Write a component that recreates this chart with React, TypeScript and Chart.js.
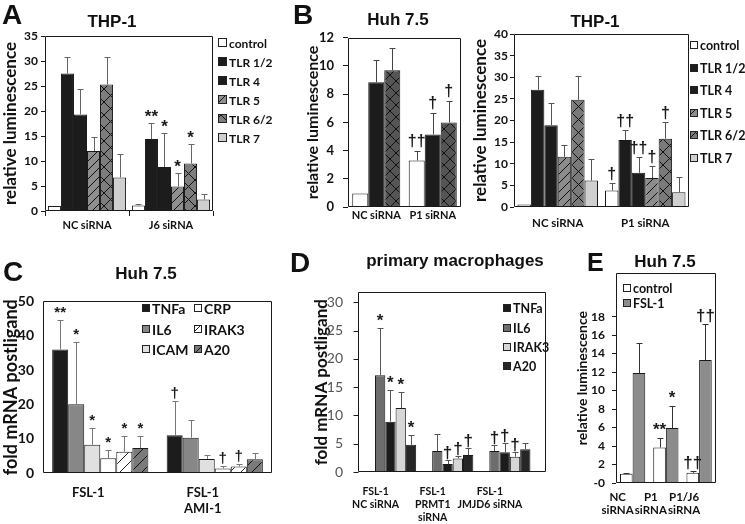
import React, { useEffect, useRef } from 'react';
import { Chart, registerables } from 'chart.js';

Chart.register(...registerables);

// ================= DATA =================
// Panel A — THP-1, NC siRNA vs J6 siRNA (relative luminescence)
const aGroups = ['NC siRNA', 'J6 siRNA'];
const aControl = [1.0, 1.1];
const aControlErr = [0, 0.3];
const aTlr12 = [27.5, 14.4];
const aTlr12Err = [3.3, 3.3];
const aTlr12Sig = ['', '**'];
const aTlr4 = [19.3, 8.8];
const aTlr4Err = [5.2, 6.8];
const aTlr4Sig = ['', '*'];
const aTlr5 = [12.0, 4.9];
const aTlr5Err = [2.9, 2.8];
const aTlr5Sig = ['', '*'];
const aTlr62 = [25.3, 9.5];
const aTlr62Err = [5.5, 4.0];
const aTlr62Sig = ['', '*'];
const aTlr7 = [6.7, 2.3];
const aTlr7Err = [4.8, 1.2];

// Panel B (left) — Huh 7.5, NC vs P1 siRNA
const bGroups = ['NC siRNA', 'P1 siRNA'];
const bControl = [0.95, 3.3];
const bControlErr = [0, 0.7];
const bControlSig = ['', '††'];
const bTlr12 = [8.85, 5.15];
const bTlr12Err = [1.55, 1.55];
const bTlr12Sig = ['', '†'];
const bTlr62 = [9.7, 6.0];
const bTlr62Err = [1.6, 1.55];
const bTlr62Sig = ['', '†'];

// Panel B (right) — THP-1, NC vs P1 siRNA
const b2Control = [0.6, 3.8];
const b2ControlErr = [0, 1.7];
const b2ControlSig = ['', '†'];
const b2Tlr12 = [27.1, 15.5];
const b2Tlr12Err = [3.2, 2.4];
const b2Tlr12Sig = ['', '††'];
const b2Tlr4 = [18.9, 7.9];
const b2Tlr4Err = [5.2, 3.7];
const b2Tlr4Sig = ['', '††'];
const b2Tlr5 = [11.6, 6.7];
const b2Tlr5Err = [2.8, 2.8];
const b2Tlr5Sig = ['', '†'];
const b2Tlr62 = [24.8, 15.8];
const b2Tlr62Err = [5.6, 3.9];
const b2Tlr62Sig = ['', '†'];
const b2Tlr7 = [6.1, 3.4];
const b2Tlr7Err = [4.9, 3.5];

// Panel C — Huh 7.5, fold mRNA postligand
const cGroups: (string | string[])[] = ['FSL-1', ['FSL-1', 'AMI-1']];
const cTnfa = [36.0, 11.0];
const cTnfaErr = [8.5, 10.0];
const cTnfaSig = ['**', '†'];
const cIl6 = [20.0, 10.3];
const cIl6Err = [18.3, 5.2];
const cIl6Sig = ['*', ''];
const cIcam = [8.2, 4.1];
const cIcamErr = [4.8, 1.2];
const cIcamSig = ['*', ''];
const cCrp = [4.3, 1.3];
const cCrpErr = [2.4, 0.8];
const cCrpSig = ['*', '†'];
const cIrak3 = [6.2, 1.9];
const cIrak3Err = [4.5, 0.6];
const cIrak3Sig = ['*', '†'];
const cA20 = [7.3, 4.0];
const cA20Err = [3.5, 1.9];
const cA20Sig = ['*', ''];

// Panel D — primary macrophages
const dGroups: string[][] = [['FSL-1', 'NC siRNA'], ['FSL-1', 'PRMT1', 'siRNA'], ['FSL-1', 'JMJD6 siRNA']];
const dIl6 = [17.1, 3.7, 3.7];
const dIl6Err = [8.3, 3.1, 1.1];
const dIl6Sig = ['*', '', '†'];
const dTnfa = [8.9, 1.4, 3.5];
const dTnfaErr = [5.6, 0.7, 1.6];
const dTnfaSig = ['*', '†', '†'];
const dIrak3 = [11.3, 2.4, 2.7];
const dIrak3Err = [2.8, 0.4, 0.8];
const dIrak3Sig = ['*', '†', '†'];
const dA20 = [4.8, 3.0, 4.0];
const dA20Err = [1.7, 1.2, 1.2];
const dA20Sig = ['*', '†', ''];

// Panel E — Huh 7.5, relative luminescence
const eGroups: string[][] = [['NC', 'siRNA'], ['P1', 'siRNA'], ['P1/J6', 'siRNA']];
const eControl = [1.0, 3.85, 1.1];
const eControlErr = [0.05, 1.05, 0.15];
const eControlSig = ['', '**', '††'];
const eFsl = [11.9, 5.95, 13.3];
const eFslErr = [3.3, 2.35, 3.9];
const eFslSig = ['', '*', '††'];

// ================= HELPERS =================
const CAL = 'Lato';
const ARIAL = '"Liberation Sans", Arial, sans-serif';

function hatch(bg: string, line: string, size: number, cross: boolean, lw = 1): any {
  const c = document.createElement('canvas');
  c.width = size;
  c.height = size;
  const g = c.getContext('2d');
  if (!g) return bg;
  g.fillStyle = bg;
  g.fillRect(0, 0, size, size);
  g.strokeStyle = line;
  g.lineWidth = lw;
  g.beginPath();
  g.moveTo(0, size); g.lineTo(size, 0);
  g.moveTo(-size / 2, size / 2); g.lineTo(size / 2, -size / 2);
  g.moveTo(size / 2, size * 1.5); g.lineTo(size * 1.5, size / 2);
  if (cross) {
    g.moveTo(0, 0); g.lineTo(size, size);
    g.moveTo(-size / 2, size / 2); g.lineTo(size / 2, size * 1.5);
    g.moveTo(size / 2, -size / 2); g.lineTo(size * 1.5, size / 2);
  }
  g.stroke();
  return g.createPattern(c, 'repeat') || bg;
}

function ds(label: string, data: number[], errors: number[], sig: string[] | null, bg: any) {
  return { label, data, errors, sig, backgroundColor: bg };
}

const errorBars = {
  id: 'errorBars',
  afterDatasetsDraw(chart: any, _a: any, o: any) {
    if (!o || !o.show) return;
    const { ctx } = chart;
    const ys = chart.scales.y;
    ctx.save();
    chart.data.datasets.forEach((d: any, di: number) => {
      const meta = chart.getDatasetMeta(di);
      meta.data.forEach((el: any, i: number) => {
        const v = d.data[i];
        const e = d.errors ? d.errors[i] || 0 : 0;
        const x = Math.round(el.x) + 0.5;
        const top = ys.getPixelForValue(v + e);
        const ty = Math.round(top) + 0.5;
        if (e > 0) {
          ctx.strokeStyle = o.color;
          ctx.lineWidth = 1;
          ctx.beginPath();
          ctx.moveTo(x, el.y);
          ctx.lineTo(x, ty);
          ctx.moveTo(x - o.cap, ty);
          ctx.lineTo(x + o.cap, ty);
          ctx.stroke();
        }
        const s = d.sig ? d.sig[i] : '';
        if (s) {
          ctx.fillStyle = o.textColor;
          ctx.font = o.font;
          ctx.textAlign = 'center';
          ctx.textBaseline = 'alphabetic';
          ctx.fillText(s, el.x, top - o.gap);
        }
      });
    });
    ctx.restore();
  },
};

const frameBox = {
  id: 'frameBox',
  afterDatasetsDraw(chart: any, _a: any, o: any) {
    if (!o || !o.show) return;
    const { ctx, chartArea: ca } = chart;
    const l = Math.round(ca.left - o.l) + 0.5;
    const r = Math.round(ca.right + o.r) - 0.5;
    const t = Math.round(ca.top) + 0.5;
    const b = Math.round(ca.bottom) - 0.5;
    ctx.save();
    ctx.strokeStyle = o.color;
    ctx.lineWidth = 1;
    ctx.beginPath();
    ctx.rect(l, t, r - l, b - t);
    if (o.yTickLen > 0) {
      const ys = chart.scales.y;
      ys.ticks.forEach((tk: any) => {
        const py = Math.round(ys.getPixelForValue(tk.value)) + 0.5;
        ctx.moveTo(l - o.yTickLen, py);
        ctx.lineTo(l, py);
      });
    }
    ctx.stroke();
    ctx.restore();
  },
};

const boxLegend = {
  id: 'boxLegend',
  afterDraw(chart: any, _a: any, o: any) {
    if (!o || !o.show) return;
    const { ctx, chartArea: ca } = chart;
    const order: number[] = o.order || chart.data.datasets.map((_: any, i: number) => i);
    ctx.save();
    ctx.font = o.font;
    ctx.textBaseline = 'middle';
    ctx.textAlign = 'left';
    order.forEach((di, k) => {
      const d = chart.data.datasets[di];
      const col = Math.floor(k / o.rows);
      const row = k % o.rows;
      const x = Math.round(ca.left + o.x + col * o.colGap);
      const y = Math.round(ca.top + o.y + row * o.rowGap);
      const top = y - Math.round(o.box / 2);
      ctx.fillStyle = d.backgroundColor;
      ctx.fillRect(x, top, o.box, o.box);
      ctx.strokeStyle = '#222';
      ctx.lineWidth = 1;
      ctx.strokeRect(x + 0.5, top + 0.5, o.box - 1, o.box - 1);
      ctx.fillStyle = o.color;
      ctx.fillText(d.label, x + o.box + o.gap, y + 1);
    });
    ctx.restore();
  },
};

type Area = { l: number; t: number; r: number; b: number };

interface Spec {
  area: Area; yW: number; xH: number; padT: number; padR: number;
  labels: (string | string[])[];
  datasets: any[];
  catPct: number;
  yMax: number; yStep: number; yLimit?: number; zeroLabel?: string;
  yTick: { size: number; weight: string; color: string; len: number; pad: number };
  yTitle: { text: string; size: number; pad: number };
  xTick: { size: number; lh: number; len: number; pad: number; offset: number };
  frame: { l: number; r: number; yTickLen: number };
  legend: any;
  err: { color: string; cap: number; font: string; gap: number };
}

function rectOf(s: Spec) {
  const left = s.area.l - s.yW;
  const top = s.area.t - s.padT;
  return { left, top, width: s.area.r + s.padR - left, height: s.area.b + s.xH - top };
}

function buildConfig(s: Spec): any {
  const limit = s.yLimit ?? s.yMax;
  return {
    type: 'bar',
    data: {
      labels: s.labels,
      datasets: s.datasets.map((d) => ({
        borderColor: '#1a1a1a',
        borderWidth: 1,
        categoryPercentage: s.catPct,
        barPercentage: 1,
        ...d,
      })),
    },
    options: {
      animation: false,
      responsive: false,
      maintainAspectRatio: false,
      layout: { padding: { left: 0, top: s.padT, right: s.padR, bottom: 0 } },
      plugins: {
        legend: { display: false },
        tooltip: { enabled: false },
        title: { display: false },
        frameBox: { show: true, color: '#1a1a1a', ...s.frame },
        boxLegend: s.legend ? { show: true, color: '#111', ...s.legend } : { show: false },
        errorBars: { show: true, textColor: '#1a1a1a', ...s.err },
      },
      scales: {
        x: {
          type: 'category',
          offset: true,
          grid: {
            display: true,
            drawOnChartArea: false,
            drawTicks: s.xTick.len > 0,
            tickLength: s.xTick.len,
            color: '#1a1a1a',
            offset: true,
          },
          border: { display: false },
          ticks: {
            font: { family: CAL, size: s.xTick.size, weight: 'bold', lineHeight: s.xTick.lh },
            color: '#111',
            padding: s.xTick.pad,
            maxRotation: 0,
            minRotation: 0,
            autoSkip: false,
            labelOffset: s.xTick.offset,
          },
          afterFit: (sc: any) => { sc.height = s.xH; },
        },
        y: {
          min: 0,
          max: s.yMax,
          grid: {
            display: true,
            drawOnChartArea: false,
            drawTicks: s.yTick.len > 0,
            tickLength: s.yTick.len,
            color: '#1a1a1a',
          },
          border: { display: false },
          ticks: {
            stepSize: s.yStep,
            includeBounds: false,
            font: { family: CAL, size: s.yTick.size, weight: s.yTick.weight },
            color: s.yTick.color,
            padding: s.yTick.pad,
            callback: (v: any) => (Number(v) === 0 && s.zeroLabel ? s.zeroLabel : String(v)),
          },
          afterBuildTicks: (sc: any) => {
            sc.ticks = sc.ticks.filter(
              (t: any) => t.value <= limit + 1e-9 && Math.abs(t.value / s.yStep - Math.round(t.value / s.yStep)) < 1e-6,
            );
          },
          title: {
            display: true,
            text: s.yTitle.text,
            font: { family: CAL, size: s.yTitle.size, weight: 'bold' },
            color: '#111',
            padding: { top: s.yTitle.pad, bottom: 0 },
          },
          afterFit: (sc: any) => { sc.width = s.yW; },
        },
      },
    },
    plugins: [frameBox, errorBars, boxLegend],
  };
}

function Panel({ make }: { make: () => Spec }) {
  const ref = useRef<HTMLCanvasElement>(null);
  const spec0 = make();
  const r = rectOf(spec0);
  useEffect(() => {
    if (!ref.current) return;
    const chart = new Chart(ref.current, buildConfig(make()));
    return () => chart.destroy();
  }, []);
  return (
    <canvas
      ref={ref}
      width={r.width}
      height={r.height}
      style={{ position: 'absolute', left: r.left, top: r.top, width: r.width, height: r.height }}
    />
  );
}

function Txt(p: { x: number; y: number; size: number; text: string; center?: boolean }) {
  return (
    <div
      style={{
        position: 'absolute',
        left: p.x,
        top: p.y,
        fontFamily: ARIAL,
        fontWeight: 700,
        fontSize: p.size,
        lineHeight: 1,
        whiteSpace: 'nowrap',
        color: '#111',
        transform: p.center ? 'translateX(-50%)' : undefined,
      }}
    >
      {p.text}
    </div>
  );
}

// ================= PANEL SPECS =================
const isBrowser = typeof document !== 'undefined';
const pat = (bg: string, line: string, size: number, cross: boolean) => (isBrowser ? hatch(bg, line, size, cross) : bg);

const specA = (): Spec => ({
  area: { l: 45, t: 36, r: 213, b: 211 }, yW: 45, xH: 26, padT: 12, padR: 62,
  labels: aGroups,
  datasets: [
    ds('control', aControl, aControlErr, null, '#ffffff'),
    ds('TLR 1/2', aTlr12, aTlr12Err, aTlr12Sig, '#1c1c1c'),
    ds('TLR 4', aTlr4, aTlr4Err, aTlr4Sig, '#1c1c1c'),
    ds('TLR 5', aTlr5, aTlr5Err, aTlr5Sig, pat('#8f8f8f', '#111', 9, false)),
    ds('TLR 6/2', aTlr62, aTlr62Err, aTlr62Sig, pat('#7d7d7d', '#111', 13, true)),
    ds('TLR 7', aTlr7, aTlr7Err, null, '#cfcfcf'),
  ],
  catPct: 0.93,
  yMax: 35, yStep: 5,
  yTick: { size: 12, weight: 'bold', color: '#111', len: 4, pad: 3 },
  yTitle: { text: 'relative luminescence', size: 17, pad: 0 },
  xTick: { size: 11, lh: 1.2, len: 5, pad: 3, offset: 0 },
  frame: { l: 0, r: 0, yTickLen: 0 },
  legend: { x: 173, y: 7, rows: 6, rowGap: 19, colGap: 0, box: 9, gap: 2, font: `bold 12px ${CAL}` },
  err: { color: '#666', cap: 3, font: `bold 17px ${ARIAL}`, gap: 1 },
});

const specB1 = (): Spec => ({
  area: { l: 348, t: 33, r: 461, b: 207 }, yW: 48, xH: 20, padT: 12, padR: 5,
  labels: bGroups,
  datasets: [
    ds('control', bControl, bControlErr, bControlSig, '#ffffff'),
    ds('TLR 1/2', bTlr12, bTlr12Err, bTlr12Sig, '#1c1c1c'),
    ds('TLR 6/2', bTlr62, bTlr62Err, bTlr62Sig, pat('#555555', '#111', 12, true)),
  ],
  catPct: 0.85,
  yMax: 12, yStep: 2,
  yTick: { size: 13, weight: 'bold', color: '#111', len: 5, pad: 9 },
  yTitle: { text: 'relative luminescence', size: 16, pad: 3 },
  xTick: { size: 11, lh: 1.2, len: 0, pad: 2, offset: 0 },
  frame: { l: 0, r: 0, yTickLen: 0 },
  legend: null,
  err: { color: '#444', cap: 3, font: `bold 16px ${ARIAL}`, gap: 5 },
});

const specB2 = (): Spec => ({
  area: { l: 514, t: 34, r: 689, b: 207 }, yW: 46, xH: 30, padT: 12, padR: 56,
  labels: bGroups,
  datasets: [
    ds('control', b2Control, b2ControlErr, b2ControlSig, '#ffffff'),
    ds('TLR 1/2', b2Tlr12, b2Tlr12Err, b2Tlr12Sig, '#1c1c1c'),
    ds('TLR 4', b2Tlr4, b2Tlr4Err, b2Tlr4Sig, '#1c1c1c'),
    ds('TLR 5', b2Tlr5, b2Tlr5Err, b2Tlr5Sig, pat('#8c8c8c', '#111', 9, false)),
    ds('TLR 6/2', b2Tlr62, b2Tlr62Err, b2Tlr62Sig, pat('#7a7a7a', '#111', 13, true)),
    ds('TLR 7', b2Tlr7, b2Tlr7Err, null, '#cfcfcf'),
  ],
  catPct: 0.92,
  yMax: 40, yStep: 5,
  yTick: { size: 12, weight: 'bold', color: '#111', len: 4, pad: 2 },
  yTitle: { text: 'relative luminescence', size: 17, pad: 2 },
  xTick: { size: 11.5, lh: 1.2, len: 0, pad: 9, offset: 0 },
  frame: { l: 0, r: 0, yTickLen: 0 },
  legend: { x: 176, y: 11, rows: 6, rowGap: 22.6, colGap: 0, box: 8, gap: 2, font: `bold 12.5px ${CAL}` },
  err: { color: '#555', cap: 3, font: `bold 16px ${ARIAL}`, gap: 4 },
});

const specC = (): Spec => ({
  area: { l: 43, t: 296, r: 272, b: 473 }, yW: 43, xH: 45, padT: 12, padR: 5,
  labels: cGroups,
  datasets: [
    ds('TNFa', cTnfa, cTnfaErr, cTnfaSig, '#1c1c1c'),
    ds('IL6', cIl6, cIl6Err, cIl6Sig, '#878787'),
    ds('ICAM', cIcam, cIcamErr, cIcamSig, '#e0e0e0'),
    ds('CRP', cCrp, cCrpErr, cCrpSig, '#ffffff'),
    ds('IRAK3', cIrak3, cIrak3Err, cIrak3Sig, pat('#ffffff', '#222', 11, false)),
    ds('A20', cA20, cA20Err, cA20Sig, pat('#7a7a7a', '#111', 11, false)),
  ],
  catPct: 0.84,
  yMax: 50, yStep: 10,
  yTick: { size: 14, weight: 'bold', color: '#111', len: 0, pad: 9 },
  yTitle: { text: 'fold mRNA postligand', size: 18, pad: 0 },
  xTick: { size: 13, lh: 1.2, len: 0, pad: 12, offset: -12 },
  frame: { l: 0, r: 0, yTickLen: 0 },
  legend: { x: 99, y: 7, rows: 3, rowGap: 20.5, colGap: 52, box: 8, gap: 2, font: `bold 14px ${CAL}` },
  err: { color: '#777', cap: 3, font: `bold 15px ${ARIAL}`, gap: 3 },
});

const specD = (): Spec => ({
  area: { l: 367, t: 272, r: 547, b: 472 }, yW: 60, xH: 52, padT: 12, padR: 10,
  labels: dGroups,
  datasets: [
    ds('IL6', dIl6, dIl6Err, dIl6Sig, '#6d6d6d'),
    ds('TNFa', dTnfa, dTnfaErr, dTnfaSig, '#1c1c1c'),
    ds('IRAK3', dIrak3, dIrak3Err, dIrak3Sig, '#d6d6d6'),
    ds('A20', dA20, dA20Err, dA20Sig, '#262626'),
  ],
  catPct: 0.72,
  yMax: 31.75, yStep: 5, yLimit: 30,
  yTick: { size: 14, weight: 'normal', color: '#555', len: 0, pad: 24 },
  yTitle: { text: 'fold mRNA postligand', size: 17, pad: 4 },
  xTick: { size: 10.5, lh: 1.25, len: 0, pad: 13, offset: -20 },
  frame: { l: 9, r: 8, yTickLen: 5 },
  legend: { x: 136, y: 16, rows: 4, rowGap: 19.3, colGap: 0, box: 8, gap: 2, font: `bold 12.5px ${CAL}`, order: [1, 0, 2, 3] },
  err: { color: '#555', cap: 3, font: `bold 17px ${ARIAL}`, gap: 2 },
});

const specE = (): Spec => ({
  area: { l: 616, t: 271, r: 719, b: 483 }, yW: 44, xH: 41, padT: 12, padR: 5,
  labels: eGroups,
  datasets: [
    ds('control', eControl, eControlErr, eControlSig, '#ffffff'),
    ds('FSL-1', eFsl, eFslErr, eFslSig, '#8c8c8c'),
  ],
  catPct: 0.76,
  yMax: 22.7, yStep: 2, yLimit: 18, zeroLabel: '-0',
  yTick: { size: 12, weight: 'bold', color: '#111', len: 4, pad: 7 },
  yTitle: { text: 'relative luminescence', size: 14, pad: 2 },
  xTick: { size: 11.5, lh: 1.13, len: 0, pad: 8, offset: -15 },
  frame: { l: 0, r: 0, yTickLen: 0 },
  legend: { x: 7, y: 15, rows: 2, rowGap: 15, colGap: 0, box: 8, gap: 2, font: `bold 12.5px ${CAL}` },
  err: { color: '#333', cap: 3, font: `bold 17px ${ARIAL}`, gap: 3 },
});

export default function App() {
  return (
    <div
      style={{
        position: 'absolute',
        left: 0,
        top: 0,
        width: 745,
        height: 524,
        overflow: 'hidden',
        background: '#ffffff',
      }}
    >
      <Panel make={specA} />
      <Panel make={specB1} />
      <Panel make={specB2} />
      <Panel make={specC} />
      <Panel make={specD} />
      <Panel make={specE} />

      <Txt x={2} y={1} size={28} text="A" />
      <Txt x={293} y={1} size={28} text="B" />
      <Txt x={3} y={258} size={28} text="C" />
      <Txt x={290} y={249} size={28} text="D" />
      <Txt x={587} y={250} size={25} text="E" />

      <Txt x={112} y={13} size={17} text="THP-1" center />
      <Txt x={398} y={11} size={17} text="Huh 7.5" center />
      <Txt x={595} y={13} size={17} text="THP-1" center />
      <Txt x={146} y={265} size={17} text="Huh 7.5" center />
      <Txt x={455} y={252} size={17} text="primary macrophages" center />
      <Txt x={665} y={253} size={17} text="Huh 7.5" center />
    </div>
  );
}
